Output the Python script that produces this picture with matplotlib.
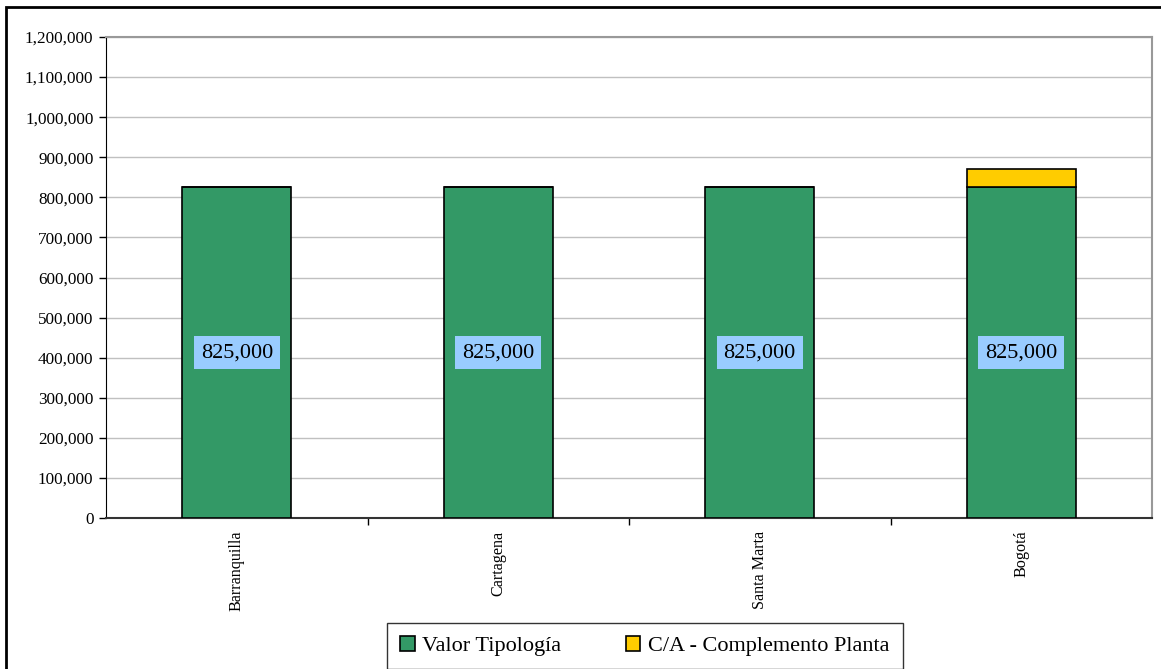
import matplotlib.pyplot as plt
from matplotlib.patches import Rectangle
from matplotlib.ticker import FuncFormatter, FixedLocator

ciudades = ['Barranquilla', 'Cartagena', 'Santa Marta', 'Bogotá']
valor_tipologia = [825000, 825000, 825000, 825000]
complemento = [0, 0, 0, 46000]

plt.rcParams['font.family'] = ['Liberation Serif', 'DejaVu Serif']

fig = plt.figure(figsize=(11.61, 6.69), dpi=100)
W, H = 1161, 669
# axes placed by pixel: left 106, right 1152, top 37, bottom 518
ax = fig.add_axes([106 / W, 1 - 518 / H, (1152 - 106) / W, (518 - 37) / H])

x = list(range(len(ciudades)))
ancho = 0.417
ax.bar(x, valor_tipologia, ancho, color='#339966', edgecolor='black', linewidth=1.2,
       label='Valor Tipología', zorder=3)
ax.bar(x, complemento, ancho, bottom=valor_tipologia, color='#FFCC00', edgecolor='black',
       linewidth=1.2, label='C/A - Complemento Planta', zorder=3)

for xi, v in zip(x, valor_tipologia):
    ax.text(xi, v / 2, f'{v:,.0f}', ha='center', va='center', fontsize=16, zorder=4,
            bbox=dict(boxstyle='square,pad=0.3', facecolor='#99CCFF', edgecolor='none'))

ax.set_xlim(-0.5, len(ciudades) - 0.5)
ax.set_ylim(0, 1200000)
ax.set_yticks(range(0, 1200001, 100000))
ax.yaxis.set_major_formatter(FuncFormatter(lambda v, p: f'{v:,.0f}'))
ax.tick_params(axis='y', labelsize=12.3, length=5, width=1, direction='out', pad=4)
ax.grid(axis='y', color='#c0c0c0', linewidth=1, zorder=0)

ax.set_xticks(x)
ax.set_xticklabels(ciudades, rotation=90, fontsize=11.6)
ax.tick_params(axis='x', length=0, pad=9)
ax.xaxis.set_minor_locator(FixedLocator([0.5, 1.5, 2.5]))
ax.tick_params(axis='x', which='minor', length=5, width=1, direction='out')

ax.spines['left'].set_color('black')
ax.spines['bottom'].set_color('#333333')
ax.spines['bottom'].set_linewidth(1.5)
ax.spines['top'].set_color('#999999')
ax.spines['right'].set_color('#999999')
ax.spines['top'].set_linewidth(1.5)
ax.spines['right'].set_linewidth(1.5)

leg = fig.legend(loc='center', bbox_to_anchor=(645 / W, 1 - 646 / H), ncol=2, fontsize=16,
                 frameon=True, fancybox=False, edgecolor='black', handlelength=0.65,
                 handleheight=0.65, columnspacing=2.9, handletextpad=0.35, borderpad=0.6,
                 borderaxespad=0)
leg.get_frame().set_linewidth(1)

# outer chart border
fig.patches.append(Rectangle((6 / W, -0.01), 1.02, 1 - 7 / H + 0.01, transform=fig.transFigure,
                             fill=False, edgecolor='black', linewidth=2))

fig.savefig('out.png', dpi=100)
